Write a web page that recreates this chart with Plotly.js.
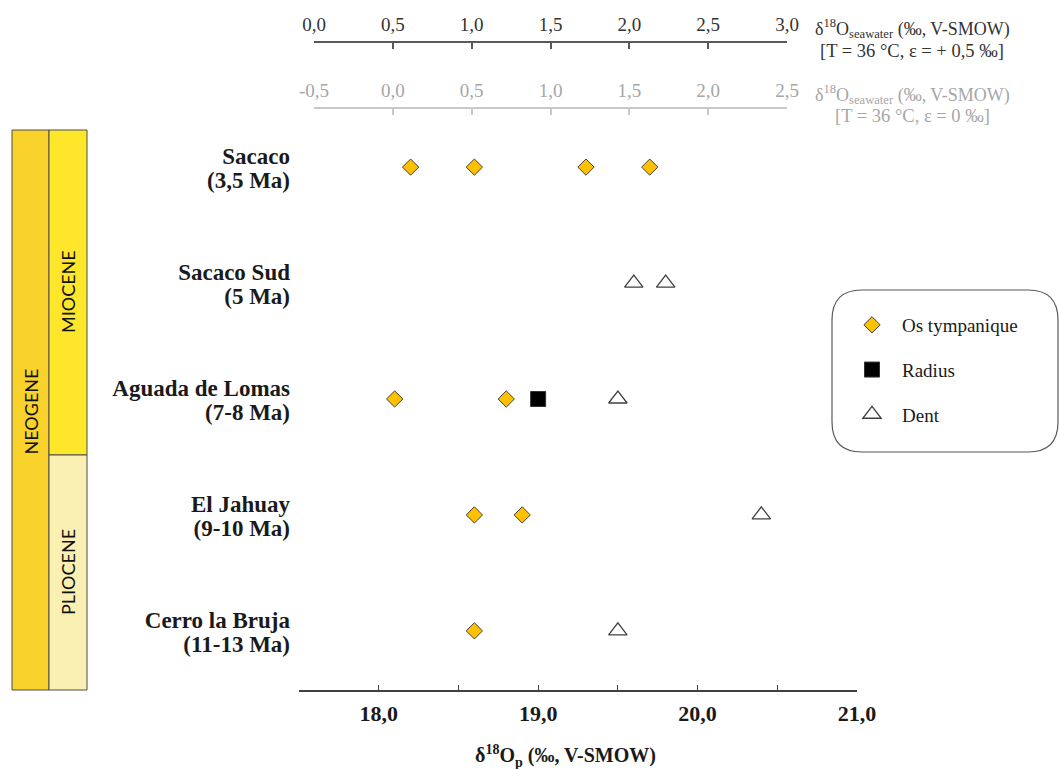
<!DOCTYPE html>
<html>
<head>
<meta charset="utf-8">
<script src="https://cdn.plot.ly/plotly-3.0.1.min.js"></script>
<style>html,body{margin:0;padding:0;background:#fff;}#chart{width:1059px;height:769px;}</style>
</head>
<body>
<div id="chart"></div>
<script>
// ---- data ----
const sites = ['Sacaco', 'Sacaco Sud', 'Aguada de Lomas', 'El Jahuay', 'Cerro la Bruja'];
const siteAges = ['(3,5 Ma)', '(5 Ma)', '(7-8 Ma)', '(9-10 Ma)', '(11-13 Ma)'];

const osSite = ['Sacaco', 'Sacaco', 'Sacaco', 'Sacaco', 'Aguada de Lomas', 'Aguada de Lomas', 'El Jahuay', 'El Jahuay', 'Cerro la Bruja'];
const osValue = [18.2, 18.6, 19.3, 19.7, 18.1, 18.8, 18.6, 18.9, 18.6];

const radiusSite = ['Aguada de Lomas'];
const radiusValue = [19.0];

const dentSite = ['Sacaco Sud', 'Sacaco Sud', 'Aguada de Lomas', 'El Jahuay', 'Cerro la Bruja'];
const dentValue = [19.6, 19.8, 19.5, 20.4, 19.5];

const bottomTicks = [18.0, 19.0, 20.0, 21.0];
const bottomTickText = ['18,0', '19,0', '20,0', '21,0'];
const topTicks1 = [0, 0.5, 1, 1.5, 2, 2.5, 3];
const topTickText1 = ['0,0', '0,5', '1,0', '1,5', '2,0', '2,5', '3,0'];
const topTicks2 = [-0.5, 0, 0.5, 1, 1.5, 2, 2.5];
const topTickText2 = ['-0,5', '0,0', '0,5', '1,0', '1,5', '2,0', '2,5'];

const eras = ['NEOGENE', 'MIOCENE', 'PLIOCENE'];

// ---- geometry helpers (pixel -> paper) ----
const W = 1059, H = 769;
const X = px => px / W;
const Y = py => 1 - py / H;

const serif = 'Liberation Serif, Times New Roman, serif';
const sans = 'Lato, Open Sans, sans-serif';

const traces = [
  {
    type: 'scatter', mode: 'markers', name: 'Os tympanique', legendgroup: 'a',
    x: osValue, y: osSite, xaxis: 'x', yaxis: 'y',
    marker: {symbol: 'diamond', size: 12.5, color: '#FFC000', line: {color: '#404040', width: 1}},
    hoverinfo: 'x+y'
  },
  {
    type: 'scatter', mode: 'markers', name: 'Radius', legendgroup: 'b',
    x: radiusValue, y: radiusSite, xaxis: 'x', yaxis: 'y',
    marker: {symbol: 'square', size: 15, color: '#000000', line: {color: '#333333', width: 1}},
    hoverinfo: 'x+y'
  },
  {
    type: 'scatter', mode: 'markers', name: 'Dent', legendgroup: 'c',
    x: dentValue, y: dentSite, xaxis: 'x', yaxis: 'y',
    marker: {symbol: 'triangle-up', size: 16, color: '#FFFFFF', line: {color: '#404040', width: 1.3}},
    hoverinfo: 'x+y'
  },
  {type: 'scatter', mode: 'markers', x: [], y: [], xaxis: 'x2', yaxis: 'y', showlegend: false, hoverinfo: 'skip'},
  {type: 'scatter', mode: 'markers', x: [], y: [], xaxis: 'x3', yaxis: 'y', showlegend: false, hoverinfo: 'skip'},
  {type: 'scatter', mode: 'markers', x: [], y: [], xaxis: 'x', yaxis: 'y2', showlegend: false, hoverinfo: 'skip'}
];

// rounded legend box
function roundedRect(x0, y0, x1, y1, r) {
  return 'M' + X(x0 + r) + ',' + Y(y0) +
    ' L' + X(x1 - r) + ',' + Y(y0) +
    ' Q' + X(x1) + ',' + Y(y0) + ' ' + X(x1) + ',' + Y(y0 + r) +
    ' L' + X(x1) + ',' + Y(y1 - r) +
    ' Q' + X(x1) + ',' + Y(y1) + ' ' + X(x1 - r) + ',' + Y(y1) +
    ' L' + X(x0 + r) + ',' + Y(y1) +
    ' Q' + X(x0) + ',' + Y(y1) + ' ' + X(x0) + ',' + Y(y1 - r) +
    ' L' + X(x0) + ',' + Y(y0 + r) +
    ' Q' + X(x0) + ',' + Y(y0) + ' ' + X(x0 + r) + ',' + Y(y0) + ' Z';
}

const yCommon = {
  domain: [Y(690), Y(130)], type: 'category',
  categoryorder: 'array', categoryarray: sites.slice().reverse(),
  range: [-0.51, 4.32],
  showgrid: false, zeroline: false, showline: false, ticks: '',
  tickfont: {family: serif, size: 23, color: '#1a1a1a', weight: 'bold'},
  ticklabelstandoff: 8, automargin: false, fixedrange: true
};

const layout = {
  width: W, height: H,
  margin: {l: 0, r: 0, t: 0, b: 0, pad: 0},
  paper_bgcolor: '#ffffff',
  plot_bgcolor: 'rgba(0,0,0,0)',
  showlegend: true,
  hovermode: 'closest',
  xaxis: {
    domain: [X(299), X(857)], range: [17.5, 21.0], anchor: 'y', side: 'bottom',
    showgrid: false, zeroline: false, showline: true, linecolor: '#404040', linewidth: 1.5,
    ticks: 'inside', ticklen: 5, tickwidth: 1, tickcolor: '#404040',
    tickvals: bottomTicks, ticktext: bottomTickText,
    minor: {tick0: 17.5, dtick: 0.5, ticks: 'inside', ticklen: 5, tickwidth: 1, tickcolor: '#404040', showgrid: false},
    tickfont: {family: serif, size: 22, color: '#1a1a1a', weight: 'bold'},
    ticklabelstandoff: 3, automargin: false, fixedrange: true
  },
  xaxis2: {
    domain: [X(314), X(787)], range: [0, 3], anchor: 'free', position: Y(41.5), side: 'top',
    showgrid: false, zeroline: false, showline: true, linecolor: '#595959', linewidth: 2,
    ticks: 'inside', ticklen: 6, tickwidth: 1.5, tickcolor: '#595959',
    tickvals: topTicks1, ticktext: topTickText1,
    tickfont: {family: serif, size: 19, color: '#333333'},
    ticklabelstandoff: 2, automargin: false, fixedrange: true
  },
  xaxis3: {
    domain: [X(314), X(787)], range: [-0.5, 2.5], anchor: 'free', position: Y(108), side: 'top',
    showgrid: false, zeroline: false, showline: true, linecolor: '#c8c8c8', linewidth: 2,
    ticks: 'inside', ticklen: 6, tickwidth: 1.5, tickcolor: '#c8c8c8',
    tickvals: topTicks2, ticktext: topTickText2,
    tickfont: {family: serif, size: 19, color: '#a6a6a6'},
    ticklabelstandoff: 2, automargin: false, fixedrange: true
  },
  yaxis: Object.assign({}, yCommon, {tickvals: sites, ticktext: sites, ticklabelshift: -11}),
  yaxis2: Object.assign({}, yCommon, {overlaying: 'y', side: 'left', anchor: 'x', tickvals: sites, ticktext: siteAges, ticklabelshift: 13}),
  legend: {
    x: X(842), y: Y(306), xanchor: 'left', yanchor: 'top',
    bgcolor: 'rgba(0,0,0,0)', borderwidth: 0,
    font: {family: serif, size: 19, color: '#1a1a1a'},
    traceorder: 'grouped', tracegroupgap: 17, itemwidth: 50
  },
  shapes: [
    {type: 'path', xref: 'paper', yref: 'paper', path: roundedRect(832, 290, 1058, 452, 30),
      fillcolor: '#ffffff', line: {color: '#595959', width: 1.2}, layer: 'below'},
    {type: 'rect', xref: 'paper', yref: 'paper', x0: X(12), x1: X(49), y0: Y(690), y1: Y(130),
      fillcolor: '#F9D32C', line: {color: '#4d4d4d', width: 1}, layer: 'below'},
    {type: 'rect', xref: 'paper', yref: 'paper', x0: X(49), x1: X(87), y0: Y(455), y1: Y(130),
      fillcolor: '#FEE72A', line: {color: '#4d4d4d', width: 1}, layer: 'below'},
    {type: 'rect', xref: 'paper', yref: 'paper', x0: X(49), x1: X(87), y0: Y(690), y1: Y(455),
      fillcolor: '#FAF0B2', line: {color: '#4d4d4d', width: 1}, layer: 'below'}
  ],
  annotations: [
    {xref: 'paper', yref: 'paper', x: X(30.5), y: Y(412), xanchor: 'center', yanchor: 'middle', text: eras[0], textangle: -90, showarrow: false,
      font: {family: sans, size: 18, color: '#111'}},
    {xref: 'paper', yref: 'paper', x: X(68), y: Y(292), xanchor: 'center', yanchor: 'middle', text: eras[1], textangle: -90, showarrow: false,
      font: {family: sans, size: 18, color: '#111'}},
    {xref: 'paper', yref: 'paper', x: X(68), y: Y(572), xanchor: 'center', yanchor: 'middle', text: eras[2], textangle: -90, showarrow: false,
      font: {family: sans, size: 18, color: '#111'}},
    {xref: 'paper', yref: 'paper', x: X(912), y: Y(28), xanchor: 'center', yanchor: 'middle', text: 'δ<sup>18</sup>O<sub>seawater</sub> (‰, V-SMOW)', showarrow: false,
      font: {family: serif, size: 18, color: '#333333'}},
    {xref: 'paper', yref: 'paper', x: X(912), y: Y(51), xanchor: 'center', yanchor: 'middle', text: '[T = 36 °C, ε = + 0,5 ‰]', showarrow: false,
      font: {family: serif, size: 18.5, color: '#333333'}},
    {xref: 'paper', yref: 'paper', x: X(912), y: Y(94), xanchor: 'center', yanchor: 'middle', text: 'δ<sup>18</sup>O<sub>seawater</sub> (‰, V-SMOW)', showarrow: false,
      font: {family: serif, size: 18, color: '#a6a6a6'}},
    {xref: 'paper', yref: 'paper', x: X(912), y: Y(116), xanchor: 'center', yanchor: 'middle', text: '[T = 36 °C, ε = 0 ‰]', showarrow: false,
      font: {family: serif, size: 18.5, color: '#a6a6a6'}},
    {xref: 'paper', yref: 'paper', x: X(565), y: Y(756), xanchor: 'center', yanchor: 'middle', text: '<b>δ<sup>18</sup>O<sub>p</sub> (‰, V-SMOW)</b>', showarrow: false,
      font: {family: serif, size: 20, color: '#1a1a1a'}}
  ]
};

Plotly.newPlot('chart', traces, layout, {displayModeBar: false, responsive: false});
</script>
</body>
</html>
